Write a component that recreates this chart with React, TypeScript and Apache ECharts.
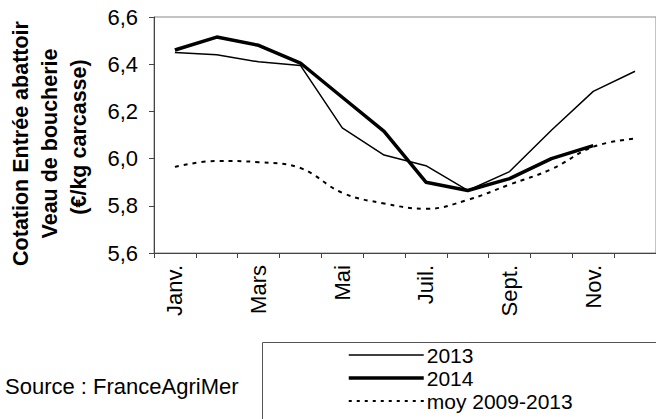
import React, { useEffect, useRef } from "react";
import * as echarts from "echarts";

const months = ["Janv.", "Févr.", "Mars", "Avr.", "Mai", "Juin", "Juil.", "Août", "Sept.", "Oct.", "Nov.", "Déc."];
const s2013 = [6.45, 6.44, 6.41, 6.395, 6.13, 6.015, 5.97, 5.865, 5.945, 6.12, 6.285, 6.37];
const s2014 = [6.46, 6.515, 6.48, 6.405, 6.26, 6.115, 5.9, 5.865, 5.915, 6.0, 6.055];
const sMoy = [5.965, 5.99, 5.985, 5.96, 5.855, 5.81, 5.787, 5.825, 5.89, 5.955, 6.05, 6.085];
const seriesNames = ["2013", "2014", "moy 2009-2013"];
const yTitleLines = ["Cotation Entrée abattoir", "Veau de boucherie", "(€/kg carcasse)"];
const sourceText = "Source : FranceAgriMer";

const FONT = "'Liberation Sans', Arial, sans-serif";
const FS = 22;

export default function App() {
  const ref = useRef<HTMLDivElement>(null);
  useEffect(() => {
    if (!ref.current) return;
    const chart = echarts.init(ref.current, undefined, { renderer: "svg" });
    chart.setOption({
      animation: false,
      backgroundColor: "#fff",
      textStyle: { fontFamily: FONT },
      grid: {
        left: 154,
        top: 17,
        width: 504,
        height: 236,
        show: true,
        borderColor: "#888",
        borderWidth: 1,
      },
      legend: {
        orient: "vertical",
        left: 347,
        top: 344,
        padding: 0,
        itemGap: 1,
        itemWidth: 75,
        itemHeight: 10,
        itemStyle: { color: "rgba(0,0,0,0)", borderWidth: 0, opacity: 0 },
        data: [
          { name: seriesNames[0], lineStyle: { width: 1.5, color: "#000" } },
          { name: seriesNames[1], lineStyle: { width: 3.5, color: "#000" } },
          { name: seriesNames[2], lineStyle: { width: 2, color: "#000", type: [3, 5] } },
        ],
        textStyle: { fontFamily: FONT, fontSize: 21, color: "#000", lineHeight: 22, padding: [0, 0, 0, -2] },
      },
      xAxis: {
        type: "category",
        data: months,
        boundaryGap: true,
        axisLine: { lineStyle: { color: "#444", width: 1 } },
        axisTick: { show: true, interval: 0, length: 5, lineStyle: { color: "#444" } },
        axisLabel: {
          interval: 1,
          rotate: 90,
          margin: 12,
          fontSize: FS,
          fontFamily: FONT,
          color: "#000",
        },
        splitLine: { show: false },
      },
      yAxis: {
        type: "value",
        min: 5.6,
        max: 6.6,
        interval: 0.2,
        axisLine: { show: true, lineStyle: { color: "#444", width: 1 } },
        axisTick: { show: true, length: 5, lineStyle: { color: "#444" } },
        axisLabel: {
          margin: 16,
          fontSize: FS,
          fontFamily: FONT,
          color: "#000",
          formatter: (v: number) => v.toFixed(1).replace(".", ","),
        },
        splitLine: { show: false },
      },
      graphic: [
        {
          type: "rect",
          shape: { x: 262.5, y: 342.5, width: 500, height: 200 },
          style: { fill: "none", stroke: "#555", lineWidth: 1 },
          z: 0,
        },
        {
          type: "text",
          x: 21,
          y: 143.5,
          rotation: Math.PI / 2,
          style: { text: yTitleLines[0], fontFamily: FONT, fontSize: 21.5, fontWeight: "bold", fill: "#000", align: "center", verticalAlign: "middle" },
        },
        {
          type: "text",
          x: 50,
          y: 143.5,
          rotation: Math.PI / 2,
          style: { text: yTitleLines[1], fontFamily: FONT, fontSize: 21.5, fontWeight: "bold", fill: "#000", align: "center", verticalAlign: "middle" },
        },
        {
          type: "text",
          x: 79,
          y: 137,
          rotation: Math.PI / 2,
          style: { text: yTitleLines[2], fontFamily: FONT, fontSize: 21.5, fontWeight: "bold", fill: "#000", align: "center", verticalAlign: "middle" },
        },
        {
          type: "text",
          x: 5,
          y: 386,
          style: { text: sourceText, fontFamily: FONT, fontSize: FS, fill: "#000", align: "left", verticalAlign: "middle" },
        },
      ],
      series: [
        {
          name: seriesNames[0],
          type: "line",
          data: s2013,
          symbol: "none",
          lineStyle: { color: "#000", width: 1.5 },
          itemStyle: { color: "#000" },
          z: 3,
        },
        {
          name: seriesNames[1],
          type: "line",
          data: s2014,
          symbol: "none",
          lineStyle: { color: "#000", width: 3.5 },
          itemStyle: { color: "#000" },
          z: 4,
        },
        {
          name: seriesNames[2],
          type: "line",
          data: sMoy,
          symbol: "none",
          smooth: 0.4,
          lineStyle: { color: "#000", width: 2, type: [4, 5] },
          itemStyle: { color: "#000" },
          z: 2,
        },
      ],
    });
    return () => chart.dispose();
  }, []);
  return (
    <div
      ref={ref}
      style={{ position: "fixed", left: 0, top: 0, width: 656, height: 419, background: "#fff" }}
    />
  );
}
